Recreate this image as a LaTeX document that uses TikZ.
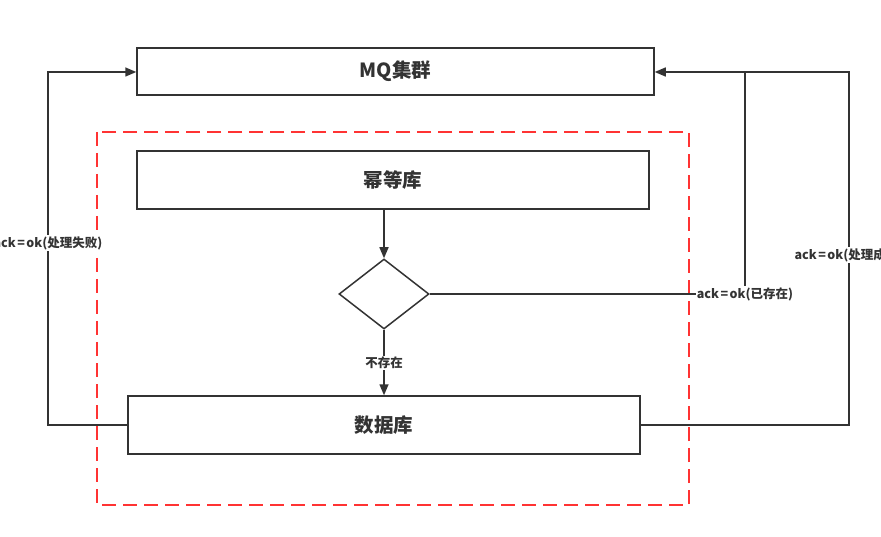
\documentclass[tikz,border=0pt]{standalone}
\usepackage{fontspec}
\setmainfont{Noto Sans CJK SC}
\usetikzlibrary{arrows.meta,shapes.geometric}
\definecolor{ln}{HTML}{333333}
\definecolor{rd}{HTML}{FF3333}
\newcommand{\eqs}{\kern0.12em=\kern0.12em}
\tikzset{
  box/.style={draw=ln,line width=1.5pt,rectangle,inner sep=0pt,font=\bfseries\fontsize{19.5}{22}\selectfont,text=ln},
  conn/.style={draw=ln,line width=1.5pt},
  arr/.style={conn,-{Triangle[length=11pt,width=9pt]}},
  lbl/.style={fill=white,inner sep=1pt,font=\bfseries\fontsize{12.5}{14}\selectfont,text=ln},
}
\begin{document}
\begin{tikzpicture}[x=1pt,y=-1pt]
\useasboundingbox (0,0) rectangle (881,537);
\clip (0,0) rectangle (881,537);
\fill[white] (0,0) rectangle (881,537);
% dashed frame
\draw[rd,line width=2.8pt,dash pattern=on 14pt off 7pt] (97,132) rectangle (689,505);
% boxes
\node[box,minimum width=517pt,minimum height=47pt] (mq) at (395.5,71.5) {MQ集群};
\node[box,minimum width=512pt,minimum height=58pt] (mdk) at (393,180) {幂等库};
\node[draw=ln,line width=1.5pt,diamond,aspect=1.29,minimum width=90pt,minimum height=70pt,inner sep=0pt] (dec) at (384,294) {};
\node[box,minimum width=512pt,minimum height=58pt] (db) at (384,425) {数据库};
% connectors
\draw[arr] (mdk.south -| dec.north) -- (dec.north);
\draw[arr] (dec.south) -- (db.north -| dec.south);
\node[lbl] (lno) at (384,363) {不存在};
\coordinate (l1) at (48,425);
\coordinate (l2) at (48,72);
\draw[arr] (db.west) -- (l1) -- (l2) -- (mq.west |- l2);
\node[lbl] (lfail) at (48,243) {ack\eqs ok(处理失败)};
\coordinate (m1) at (745,294);
\coordinate (m2) at (745,72);
\draw[conn] (dec.east) -- (m1) -- (m2);
\node[lbl] (lm) at (m1) {ack\eqs ok(已存在)};
\coordinate (r1) at (849,425);
\coordinate (r2) at (849,72);
\draw[arr] (db.east) -- (r1) -- (r2) -- (mq.east |- r2);
\node[lbl] (lok) at (849,255) {ack\eqs ok(处理成功)};
\end{tikzpicture}
\end{document}
